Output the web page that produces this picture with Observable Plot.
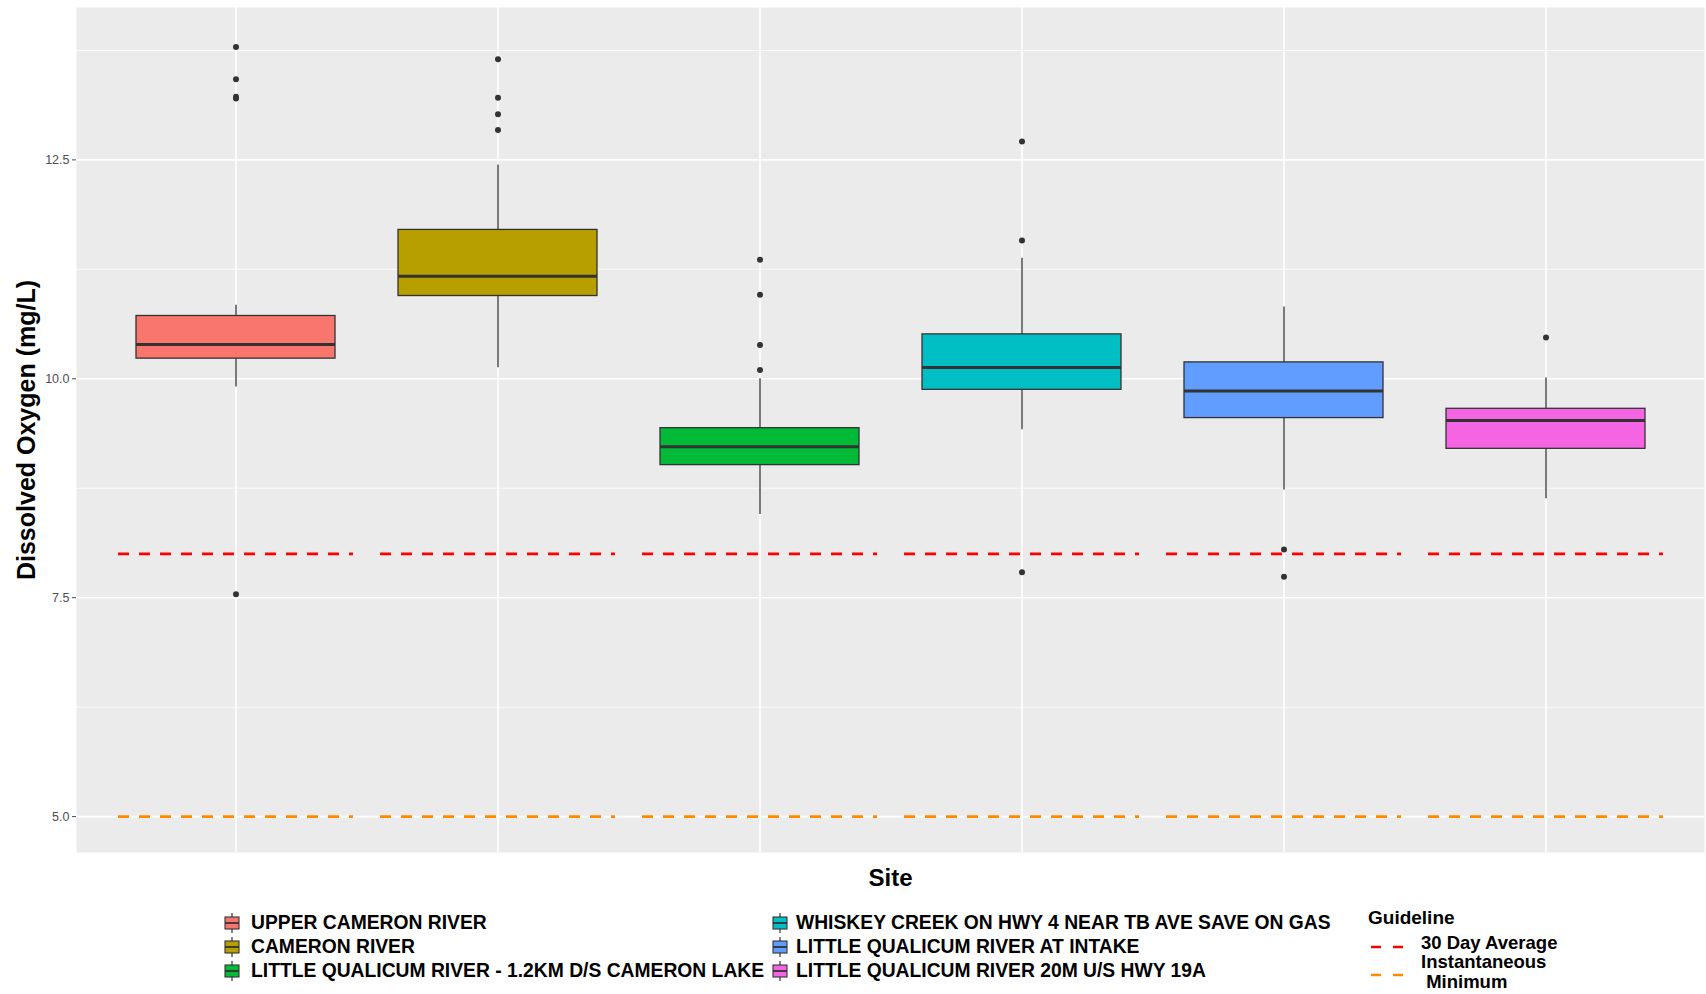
<!DOCTYPE html>
<html><head><meta charset="utf-8">
<script src="https://cdn.jsdelivr.net/npm/d3@7"></script>
<script src="https://cdn.jsdelivr.net/npm/@observablehq/plot@0.6"></script>
<style>
body{margin:0;background:#fff;font-family:"Liberation Sans",Arial,sans-serif;}
#wrap{position:relative;width:1706px;height:994px;overflow:hidden}
#chart svg{display:block}
#legend{position:absolute;left:0;top:0;width:1706px;height:994px;pointer-events:none}
.lab{position:absolute;font-weight:bold;white-space:nowrap;color:#000;transform:translateY(-50%);line-height:1}
.key{position:absolute}
</style></head><body><div id="wrap"><div id="chart"></div><div id="legend"></div></div>
<script>
const sites = [
  "UPPER CAMERON RIVER",
  "CAMERON RIVER",
  "LITTLE QUALICUM RIVER - 1.2KM D/S CAMERON LAKE",
  "WHISKEY CREEK ON HWY 4 NEAR TB AVE SAVE ON GAS",
  "LITTLE QUALICUM RIVER AT INTAKE",
  "LITTLE QUALICUM RIVER 20M U/S HWY 19A"
];
const colors = ["#F8766D","#B79F00","#00BA38","#00BFC4","#619CFF","#F564E3"];
const q1 =          [10.23, 10.945, 9.014, 9.874, 9.551, 9.20];
const medians =     [10.39, 11.17,  9.223, 10.13, 9.859, 9.524];
const q3 =          [10.717, 11.70, 9.436, 10.507, 10.187, 9.657];
const whiskerLow =  [9.905, 10.126, 8.45,  9.417, 8.73,  8.63];
const whiskerHigh = [10.84, 12.44,  10.0,  11.376, 10.82, 10.01];
const outliers = [
  [13.79, 13.42, 13.22, 13.20, 7.54],
  [13.65, 13.21, 13.02, 12.84],
  [11.36, 10.96, 10.385, 10.10],
  [12.71, 11.58, 7.79],
  [8.05, 7.74],
  [10.47]
];
const guidelineNames = ["30 Day Average", "Instantaneous\n Minimum"];
const guidelineValues = [8, 5];
const guidelineColors = ["#FF0000", "#FF8A00"];
const yDomain = [4.59, 14.24];
const yTicks = [5, 7.5, 10, 12.5];
const yMinor = [6.25, 8.75, 11.25, 13.75];

const boxes = sites.map((s, i) => ({site: s, q1: q1[i], median: medians[i], q3: q3[i], lo: whiskerLow[i], hi: whiskerHigh[i]}));
const pts = sites.flatMap((s, i) => outliers[i].map(v => ({site: s, value: v})));
const guideMarks = guidelineValues.map((v, j) =>
  Plot.tickY(sites.map(s => ({site: s, value: v})), {
    x: "site", y: "value", stroke: guidelineColors[j], strokeWidth: 2.6,
    strokeDasharray: "11,10", insetLeft: -18, insetRight: -18
  }));

const chart = Plot.plot({
  width: 1706, height: 900,
  marginLeft: 76, marginRight: 2, marginTop: 7, marginBottom: 48,
  style: {background: "transparent", fontFamily: "Liberation Sans, Arial, sans-serif", overflow: "visible"},
  x: {domain: sites, paddingInner: 0.242, paddingOuter: 0.221, axis: null},
  y: {domain: yDomain},
  color: {domain: sites, range: colors},
  marks: [
    Plot.frame({fill: "#EBEBEB", stroke: "none"}),
    Plot.ruleY(yMinor, {stroke: "#fff", strokeWidth: 0.8}),
    Plot.ruleY(yTicks, {stroke: "#fff", strokeWidth: 1.6}),
    Plot.ruleX(sites, {x: d => d, stroke: "#fff", strokeWidth: 1.6}),
    Plot.axisY({ticks: yTicks, tickFormat: d3.format(".1f"), tickSize: 4, tickPadding: 3, fontSize: 12.5, color: "#4D4D4D", label: null}),
    Plot.ruleX(boxes, {x: "site", y1: "q3", y2: "hi", stroke: "#333", strokeWidth: 1.3}),
    Plot.ruleX(boxes, {x: "site", y1: "lo", y2: "q1", stroke: "#333", strokeWidth: 1.3}),
    Plot.barY(boxes, {x: "site", y1: "q1", y2: "q3", fill: "site", stroke: "#333", strokeWidth: 1.3}),
    Plot.tickY(boxes, {x: "site", y: "median", stroke: "#333", strokeWidth: 3}),
    ...guideMarks,
    Plot.dot(pts, {x: "site", y: "value", r: 3, fill: "#333", stroke: "none"}),
    Plot.text(["Site"], {frameAnchor: "bottom", dy: 33, fontSize: 24, fontWeight: "bold", fill: "#000"}),
    Plot.text(["Dissolved Oxygen (mg/L)"], {y: () => (yDomain[0] + yDomain[1]) / 2, frameAnchor: "left", textAnchor: "middle", lineAnchor: "middle", dx: -50, rotate: -90, fontSize: 25, fontWeight: "bold", fill: "#000"})
  ]
});
document.getElementById("chart").appendChild(chart);

// Legend
const legend = document.getElementById("legend");
const rowsY = [923, 947, 971];
const cols = [{keyX: 224, textX: 251}, {keyX: 772, textX: 796}];
function keySvg(color) {
  return `<svg width="16" height="20" viewBox="0 0 16 20"><line x1="8" y1="0" x2="8" y2="20" stroke="#333" stroke-width="1.2"/><rect x="1" y="4" width="14" height="12" fill="${color}" stroke="#333" stroke-width="1.1"/><line x1="1" y1="10" x2="15" y2="10" stroke="#333" stroke-width="1.8"/></svg>`;
}
sites.forEach((s, i) => {
  const c = cols[Math.floor(i / 3)], y = rowsY[i % 3];
  const k = document.createElement("div");
  k.className = "key";
  k.style.left = c.keyX + "px"; k.style.top = (y - 10) + "px";
  k.innerHTML = keySvg(colors[i]);
  legend.appendChild(k);
  const t = document.createElement("div");
  t.className = "lab";
  t.style.left = c.textX + "px"; t.style.top = y + "px"; t.style.fontSize = "19.3px";
  t.textContent = s;
  legend.appendChild(t);
});
const title = document.createElement("div");
title.className = "lab";
title.style.left = "1368px"; title.style.top = "917px"; title.style.fontSize = "19px";
title.textContent = "Guideline";
legend.appendChild(title);
const gY = [942.5, 971];
guidelineNames.forEach((g, j) => {
  const k = document.createElement("div");
  k.className = "key";
  k.style.left = "1370px"; k.style.top = (gY[j] - 5) + "px";
  k.innerHTML = `<svg width="36" height="10"><line x1="1" y1="5" x2="34" y2="5" stroke="${guidelineColors[j]}" stroke-width="2.6" stroke-dasharray="10,12"/></svg>`;
  legend.appendChild(k);
  const lines = g.split("\n");
  lines.forEach((ln, m) => {
    const t = document.createElement("div");
    t.className = "lab";
    t.style.fontSize = "18.5px";
    t.style.whiteSpace = "pre";
    t.style.left = "1421px";
    const yy = lines.length === 1 ? gY[j] : gY[j] + (m === 0 ? -9.5 : 10.5);
    t.style.top = yy + "px";
    t.textContent = ln;
    legend.appendChild(t);
  });
});
</script></body></html>
